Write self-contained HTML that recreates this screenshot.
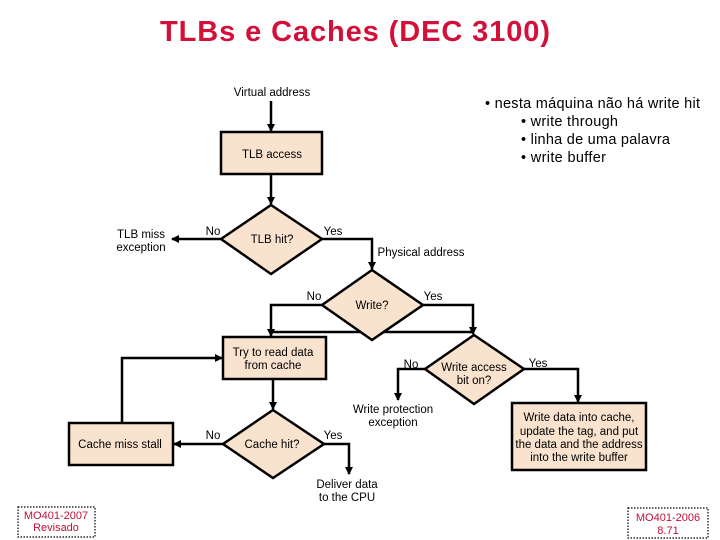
<!DOCTYPE html>
<html><head><meta charset="utf-8"><style>
html,body{margin:0;padding:0;background:#fff;}
svg{display:block;}
text{font-family:"Liberation Sans",sans-serif;fill:#000;}
</style></head><body>
<svg width="720" height="540" viewBox="0 0 720 540" xmlns="http://www.w3.org/2000/svg">
<defs><marker id="a" markerWidth="8" markerHeight="8" refX="7" refY="4" orient="auto" markerUnits="userSpaceOnUse"><path d="M0,0 L8,4 L0,8z" fill="#000"/></marker></defs>
<text x="355" y="41" text-anchor="middle" font-size="29" font-weight="bold" style="fill:#d3103a" textLength="390">TLBs e Caches (DEC 3100)</text>
<g font-size="14.5">
<text x="485" y="108" textLength="215">• nesta máquina não há write hit</text>
<text x="521" y="126" textLength="97">• write through</text>
<text x="521" y="144" textLength="149">• linha de uma palavra</text>
<text x="521" y="162" textLength="85">• write buffer</text>
</g>
<g stroke="#000" stroke-width="2.5" fill="none">
<line x1="271" y1="101" x2="271" y2="131" marker-end="url(#a)"/>
<line x1="271" y1="174" x2="271" y2="204" marker-end="url(#a)"/>
<line x1="221" y1="239" x2="172" y2="239" marker-end="url(#a)"/>
<polyline points="322,239 372,239 372,269" marker-end="url(#a)"/>
<line x1="271" y1="332" x2="473" y2="332"/>
<polyline points="322,305 271,305 271,336" marker-end="url(#a)"/>
<polyline points="423,305 473,305 473,334" marker-end="url(#a)"/>
<polyline points="425,369 398,369 398,400" marker-end="url(#a)"/>
<polyline points="524,369 578,369 578,402" marker-end="url(#a)"/>
<line x1="273" y1="379" x2="273" y2="409" marker-end="url(#a)"/>
<line x1="223" y1="444" x2="174" y2="444" marker-end="url(#a)"/>
<polyline points="324,444 349,444 349,474" marker-end="url(#a)"/>
<polyline points="122,423 122,358 222,358" marker-end="url(#a)"/>
</g>
<g stroke="#000" stroke-width="2.5" fill="#f9e3cf">
<rect x="221" y="132" width="101" height="42"/>
<polygon points="271,205 322,239 271,274 221,239"/>
<polygon points="372,270 423,305 372,340 322,305"/>
<rect x="223" y="337" width="103" height="42"/>
<polygon points="474,335 524,369 474,404 425,369"/>
<rect x="512" y="403" width="134" height="67"/>
<rect x="69" y="423" width="104" height="42"/>
<polygon points="273,410 324,444 273,478 223,444"/>
</g>
<g font-size="11.5">
<text x="272" y="96" text-anchor="middle">Virtual address</text>
<text x="272" y="158" text-anchor="middle">TLB access</text>
<text x="141" y="238" text-anchor="middle">TLB miss</text>
<text x="141" y="251" text-anchor="middle">exception</text>
<text x="213" y="235" text-anchor="middle">No</text>
<text x="272" y="243" text-anchor="middle">TLB hit?</text>
<text x="333" y="235" text-anchor="middle">Yes</text>
<text x="421" y="256" text-anchor="middle">Physical address</text>
<text x="314" y="300" text-anchor="middle">No</text>
<text x="372" y="309" text-anchor="middle">Write?</text>
<text x="433" y="300" text-anchor="middle">Yes</text>
<text x="273" y="356" text-anchor="middle">Try to read data</text>
<text x="273" y="369" text-anchor="middle">from cache</text>
<text x="411" y="368" text-anchor="middle">No</text>
<text x="474" y="371" text-anchor="middle">Write access</text>
<text x="474" y="384" text-anchor="middle">bit on?</text>
<text x="538" y="367" text-anchor="middle">Yes</text>
<text x="393" y="413" text-anchor="middle">Write protection</text>
<text x="393" y="426" text-anchor="middle">exception</text>
<text x="579" y="421" text-anchor="middle">Write data into cache,</text>
<text x="579" y="435" text-anchor="middle">update the tag, and put</text>
<text x="579" y="448" text-anchor="middle">the data and the address</text>
<text x="579" y="461" text-anchor="middle">into the write buffer</text>
<text x="120" y="448" text-anchor="middle">Cache miss stall</text>
<text x="213" y="439" text-anchor="middle">No</text>
<text x="272" y="448" text-anchor="middle">Cache hit?</text>
<text x="333" y="439" text-anchor="middle">Yes</text>
<text x="347" y="488" text-anchor="middle">Deliver data</text>
<text x="347" y="501" text-anchor="middle">to the CPU</text>
</g>
<g stroke="#000" stroke-width="1.2" stroke-dasharray="1.5,1.5" fill="none">
<rect x="18" y="507" width="77" height="30"/>
<rect x="628" y="508" width="80" height="30"/>
</g>
<g font-size="11">
<text x="56" y="519" text-anchor="middle" style="fill:#c0103a">MO401-2007</text>
<text x="56" y="531" text-anchor="middle" style="fill:#c0103a">Revisado</text>
<text x="668" y="521" text-anchor="middle" style="fill:#c0103a">MO401-2006</text>
<text x="668" y="534" text-anchor="middle" style="fill:#c0103a">8.71</text>
</g>
</svg>
</body></html>
